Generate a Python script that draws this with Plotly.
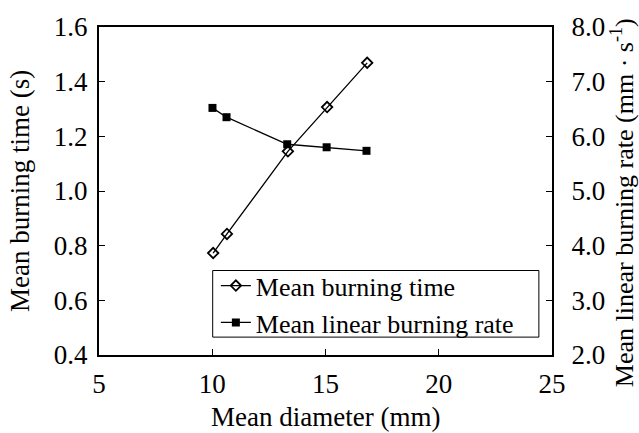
import plotly.graph_objects as go

diameter_time = [10.04, 10.65, 13.34, 15.07, 16.84]
burning_time = [0.773, 0.843, 1.145, 1.307, 1.469]
diameter_rate = [10.01, 10.63, 13.31, 15.05, 16.81]
burning_rate = [6.52, 6.35, 5.855, 5.80, 5.735]

FONT = "Liberation Serif, Times New Roman, serif"
FS = 27

fig = go.Figure()
fig.add_trace(go.Scatter(
    x=diameter_time, y=burning_time, name="Mean burning time",
    mode="lines+markers",
    line=dict(color="black", width=1.3),
    marker=dict(symbol="diamond-open", size=8, color="black", line=dict(width=1.8, color="black")),
))
fig.add_trace(go.Scatter(
    x=diameter_rate, y=burning_rate, name="Mean linear burning rate",
    mode="lines+markers", yaxis="y2",
    line=dict(color="black", width=1.3),
    marker=dict(symbol="square", size=8, color="black"),
))

axis_common = dict(
    showgrid=False, zeroline=False, showline=True, linecolor="black", linewidth=2,
    ticks="inside", ticklen=6, tickwidth=1, tickcolor="black",
    tickfont=dict(family=FONT, size=FS, color="black"),
)

fig.update_layout(
    width=639, height=433,
    margin=dict(l=99, r=87, t=25, b=78),
    paper_bgcolor="white", plot_bgcolor="white",
    font=dict(family=FONT, size=FS, color="black"),
    showlegend=True,
    xaxis=dict(range=[5, 25], dtick=5, tick0=5, mirror=True, ticklabelstandoff=4, **axis_common),
    yaxis=dict(range=[0.4, 1.6], dtick=0.2, tick0=0.4, tickformat=".1f", ticklabelstandoff=4, **axis_common),
    yaxis2=dict(range=[2, 8], dtick=1, tick0=2, tickformat=".1f", overlaying="y", side="right",
                ticklabelstandoff=12, **axis_common),
    legend=dict(
        x=0.258, y=0.283, xanchor="left", yanchor="top",
        bgcolor="rgba(0,0,0,0)", borderwidth=0,
        font=dict(family=FONT, size=26, color="black"),
        tracegroupgap=0, itemwidth=30,
    ),
    shapes=[
        dict(type="rect", xref="paper", yref="paper", x0=0.251, x1=0.971, y0=0.0545, y1=0.2576,
             line=dict(color="black", width=1), fillcolor="white", layer="above"),
    ],
    annotations=[
        dict(text="Mean diameter (mm)", xref="paper", yref="paper", x=0.5, y=-0.188,
             xanchor="center", yanchor="middle", showarrow=False,
             font=dict(family=FONT, size=FS, color="black")),
        dict(text="Mean burning time (s)", xref="paper", yref="paper", x=-0.1744, y=0.5,
             xanchor="center", yanchor="middle", textangle=-90, showarrow=False,
             font=dict(family=FONT, size=FS, color="black")),
        dict(text="Mean linear burning rate (mm · s<sup>-1</sup>)", xref="paper", yref="paper",
             x=1.156, y=0.465, xanchor="center", yanchor="middle", textangle=-90, showarrow=False,
             font=dict(family=FONT, size=26, color="black")),
    ],
)

fig.write_html("out.html")
